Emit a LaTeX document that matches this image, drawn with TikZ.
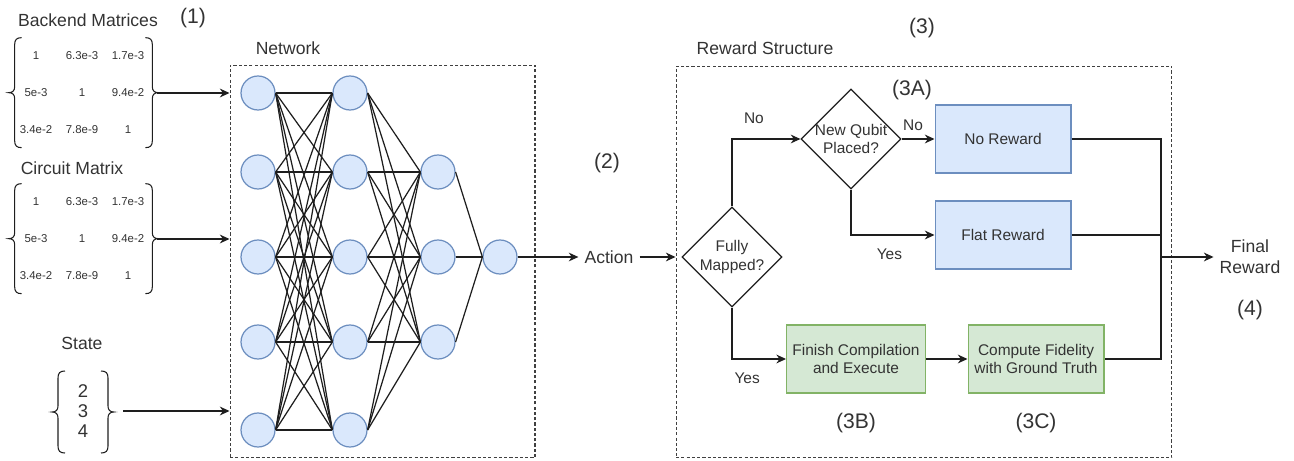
\documentclass[tikz,border=0pt]{standalone}
\usepackage{fontspec}
\setmainfont{Liberation Sans}
\usetikzlibrary{arrows.meta,calc,matrix,shapes.geometric}
\definecolor{ink}{HTML}{1E1E1E}
\definecolor{label}{HTML}{333333}
\definecolor{netfill}{HTML}{DAE8FC}
\definecolor{netline}{HTML}{6C8EBF}
\definecolor{okfill}{HTML}{D5E8D4}
\definecolor{okline}{HTML}{82B366}
\tikzset{
  wire/.style={draw=ink, line width=0.7pt},
  flow/.style={wire, -{Stealth[length=5.5pt,width=5pt]}},
  dotbox/.style={draw=ink!85, line width=0.6pt, dash pattern=on 1.8pt off 1.2pt, inner sep=0pt},
  neuron/.style={circle, fill=netfill, draw=netline, line width=0.7pt, minimum size=0.68cm, inner sep=0pt},
  lab/.style={text=label, font=\fontsize{10}{12}\selectfont},
  tag/.style={text=label, font=\fontsize{12}{14}\selectfont},
  small/.style={text=label, font=\fontsize{8.8}{10.6}\selectfont},
  bluebox/.style={small, rectangle, fill=netfill, draw=netline, line width=0.6pt,
    minimum width=2.72cm, minimum height=1.36cm, align=center},
  greenbox/.style={bluebox, fill=okfill, draw=okline},
  decide/.style={small, diamond, draw=ink, line width=0.7pt, minimum size=2cm, inner sep=-2pt, align=center},
  entries/.style={matrix of nodes, inner sep=0pt, row sep=0.14cm, column sep=0pt,
    nodes={text=label, font=\fontsize{6.5}{8}\selectfont, minimum width=0.92cm,
      minimum height=0.6cm, inner sep=0pt, anchor=center}},
  curl/.style={wire, line width=0.6pt}
}
% curly bracket: #1 top corner of the stroke, #2 half height, #3 = 1 (left) or -1 (right)
\newcommand{\Curl}[3]{%
  \draw[curl] (#1) ++({7*#3},0) .. controls +({-5*#3},0) and +(0,5) .. ++({-7*#3},-7)
    -- ++(0,{13-#2}) .. controls +(0,-4) and +({4*#3},0) .. ++({-6*#3},-6)
    .. controls +({4*#3},0) and +(0,4) .. ++({6*#3},-6)
    -- ++(0,{13-#2}) .. controls +(0,-5) and +({-5*#3},0) .. ++({7*#3},-7);
}

\begin{document}
\begin{tikzpicture}[x=0.02cm, y=0.02cm]
  \useasboundingbox (0,0) rectangle (1294,460);

  % inputs
  \node[lab] (bmlab) at (88,440) {Backend Matrices};
  \node[tag] (t1) at (193,442) {(1)};
  \matrix[entries] (bm) at (82,367) {
    1 & 6.3e-3 & 1.7e-3 \\
    5e-3 & 1 & 9.4e-2 \\
    3.4e-2 & 7.8e-9 & 1 \\
  };
  \Curl{$(bm.north west)+(2,3)$}{55}{1}
  \Curl{$(bm.north east)+(1,3)$}{55}{-1}

  \node[lab] (cmlab) at (72,292) {Circuit Matrix};
  \matrix[entries] (cm) at (82,221) {
    1 & 6.3e-3 & 1.7e-3 \\
    5e-3 & 1 & 9.4e-2 \\
    3.4e-2 & 7.8e-9 & 1 \\
  };
  \Curl{$(cm.north west)+(2,3)$}{55}{1}
  \Curl{$(cm.north east)+(1,3)$}{55}{-1}

  \node[lab] (stlab) at (82,117) {State};
  \node[text=label, font=\fontsize{10.5}{11.4}\selectfont, align=center, inner sep=0pt] (st) at (83,49) {2\\3\\4};
  \Curl{$(st)+(-25,40)$}{41}{1}
  \Curl{$(st)+(25,40)$}{41}{-1}

  % network
  \node[dotbox, minimum width=6.1cm, minimum height=7.86cm] (net) at (382.5,198.5) {};
  \node[lab] (netlab) at (288,412) {Network};
  \foreach \i/\y in {1/367,2/288,3/203,4/118,5/30} {
    \node[neuron] (a\i) at (258,\y) {};
    \node[neuron] (b\i) at (350,\y) {};
  }
  \foreach \i/\y in {1/288,2/203,3/118}
    \node[neuron] (c\i) at (438,\y) {};
  \node[neuron] (out) at (500,203) {};
  \foreach \i in {1,...,5}
    \foreach \j in {1,...,5}
      \draw[wire] (a\i.east) -- (b\j.west);
  \foreach \i in {1,...,5}
    \foreach \j in {1,2,3}
      \draw[wire] (b\i.east) -- (c\j.west);
  \foreach \j in {1,2,3}
    \draw[wire] (c\j.east) -- (out.west);

  \draw[flow] ($(bm.east)+(6,0)$) -- (bm.east -| net.west);
  \draw[flow] ($(cm.east)+(6,0)$) -- (cm.east -| net.west);
  \draw[flow] ($(st)+(40,0)$) -- (st -| net.west);

  % action
  \node[tag] (t2) at (607,297) {(2)};
  \node[lab] (act) at (609,203) {Action};
  \draw[flow] (out.east) -- (act.west);

  % reward structure
  \node[dotbox, minimum width=9.92cm, minimum height=7.84cm] (rew) at (924,198) {};
  \node[lab] (rewlab) at (765,412) {Reward Structure};
  \node[tag] (t3) at (922,432) {(3)};
  \node[tag] (t3a) at (912,370) {(3A)};
  \draw[flow] (act.east) -- (act -| rew.west);

  \node[decide] (full) at (732,203) {Fully\\Mapped?};
  \node[decide] (placed) at (851,321) {New Qubit\\Placed?};
  \node[bluebox] (none) at (1003,321) {No Reward};
  \node[bluebox] (flat) at (1003,225) {Flat Reward};
  \node[greenbox] (finish) at (856,101) {Finish Compilation\\and Execute};
  \node[greenbox] (fid) at (1036,101) {Compute Fidelity\\with Ground Truth};
  \node[tag] (t3b) at (856,37) {(3B)};
  \node[tag] (t3c) at (1036,37) {(3C)};

  \draw[flow] (full.north) |- (placed.west) node[small, pos=0.66, above=5pt] {No};
  \draw[flow] (placed.east) -- (none.west) node[small, pos=0.35, above=1pt] {No};
  \draw[flow] (placed.south) |- (flat.west) node[small, pos=0.73, below=4pt] {Yes};
  \draw[flow] (full.south) |- (finish.west) node[small, pos=0.64, below=4pt] {Yes};
  \draw[flow] (finish.east) -- (fid.west);

  % merge into the final reward
  \coordinate (join) at (1161,203);
  \node[lab, align=center] (final) at (1250,203) {Final\\Reward};
  \node[tag] (t4) at (1250,150) {(4)};
  \draw[wire] (none.east) -| (join) |- (fid.east);
  \draw[wire] (flat.east) -- (flat.east -| join);
  \draw[flow] (join) -- (join -| final.west);
\end{tikzpicture}
\end{document}
